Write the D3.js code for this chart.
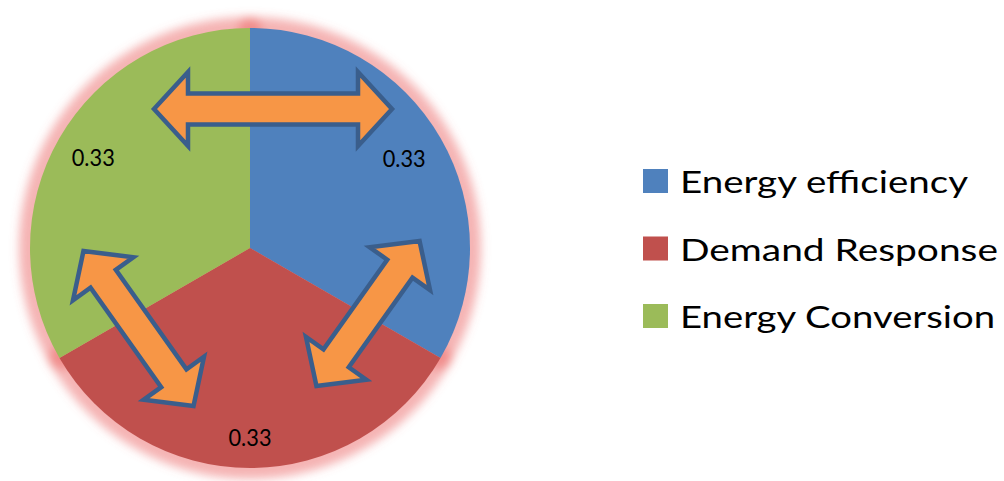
<!DOCTYPE html>
<html>
<head>
<meta charset="utf-8">
<script src="https://cdn.jsdelivr.net/npm/d3@7/dist/d3.min.js"></script>
<style>
  html, body { margin: 0; padding: 0; background: #ffffff; }
  svg { display: block; }
</style>
</head>
<body>
<svg id="chart" width="1004" height="481"></svg>
<script>
// Shares of the three energy-flexibility areas
const categories = ["Energy efficiency", "Demand Response", "Energy Conversion"];
const values = [0.33, 0.33, 0.33];
const valueLabels = ["0.33", "0.33", "0.33"];
const colors = ["#4F81BD", "#C0504D", "#9BBB59"];

// Two-way links between neighbouring areas (drawn as double arrows)
const links = [
  ["Energy Conversion", "Energy efficiency"],
  ["Energy efficiency", "Demand Response"],
  ["Demand Response", "Energy Conversion"]
];

const width = 1004, height = 481;
const cx = 250, cy = 248, radius = 220;

const svg = d3.select("#chart");
const defs = svg.append("defs");

const glow = defs.append("filter")
  .attr("id", "softGlow")
  .attr("x", "-20%").attr("y", "-20%")
  .attr("width", "140%").attr("height", "140%");
glow.append("feGaussianBlur").attr("stdDeviation", 5);

const color = d3.scaleOrdinal().domain(categories).range(colors);

const pie = d3.pie().sort(null).value(d => d.value);
const arcs = pie(categories.map((c, i) => ({ name: c, value: values[i], label: valueLabels[i] })));

const arc = d3.arc().innerRadius(0).outerRadius(radius);

const g = svg.append("g").attr("transform", `translate(${cx},${cy})`);

// soft red halo following each slice outline
g.append("g")
  .attr("filter", "url(#softGlow)")
  .selectAll("path")
  .data(arcs)
  .join("path")
  .attr("d", arc)
  .attr("fill", "none")
  .attr("stroke", "#EC6A67")
  .attr("stroke-opacity", 0.5)
  .attr("stroke-width", 22)
  .attr("stroke-linejoin", "round");

// slices
g.append("g")
  .selectAll("path")
  .data(arcs)
  .join("path")
  .attr("d", arc)
  .attr("fill", d => color(d.data.name));

// double arrows between neighbouring slices, each laid across the shared border
const arrowShape = (L, head, headHalf, shaftHalf) => {
  const a = -L / 2, b = L / 2;
  return [
    [a, 0], [a + head, -headHalf], [a + head, -shaftHalf],
    [b - head, -shaftHalf], [b - head, -headHalf], [b, 0],
    [b - head, headHalf], [b - head, shaftHalf],
    [a + head, shaftHalf], [a + head, headHalf]
  ];
};
const line = d3.line();

// placement of each link arrow relative to the pie centre
const arrowLayout = [
  { dx: 23, dy: -139, rotate: 0, length: 238 },
  { dx: 118, dy: 65.5, rotate: -54.6, length: 178 },
  { dx: -111.5, dy: 80.5, rotate: 54.6, length: 190 }
];

g.append("g")
  .selectAll("path")
  .data(links.map((l, i) => ({ link: l, ...arrowLayout[i] })))
  .join("path")
  .attr("transform", d => `translate(${d.dx},${d.dy}) rotate(${d.rotate})`)
  .attr("d", d => line(arrowShape(d.length, 34, 37, 15.5)) + "Z")
  .attr("fill", "#F79646")
  .attr("stroke", "#3A5E8C")
  .attr("stroke-width", 4.5)
  .attr("stroke-linejoin", "miter")
  .attr("stroke-miterlimit", 10);

// value labels placed on each slice's mid-angle
const labelRadius = { "Energy efficiency": 178, "Demand Response": 190, "Energy Conversion": 181 };
g.append("g")
  .selectAll("text")
  .data(arcs)
  .join("text")
  .attr("transform", d => {
    const r = labelRadius[d.data.name];
    const c = d3.arc().innerRadius(r).outerRadius(r).centroid(d);
    return `translate(${c[0]},${c[1]})`;
  })
  .attr("text-anchor", "middle")
  .attr("dy", "0.36em")
  .attr("font-family", "Lato, 'Open Sans', sans-serif")
  .attr("font-size", 23.5)
  .attr("fill", "#000000")
  .attr("textLength", 43)
  .attr("lengthAdjust", "spacingAndGlyphs")
  .text(d => d.data.label);

// legend
const legendWidths = { "Energy efficiency": 288, "Demand Response": 318, "Energy Conversion": 315 };
const legendY = d3.scalePoint().domain(categories).range([169, 304]);
const legend = svg.append("g");
const item = legend.selectAll("g")
  .data(categories)
  .join("g")
  .attr("transform", d => `translate(643,${legendY(d)})`);
item.append("rect")
  .attr("width", 25)
  .attr("height", 24)
  .attr("fill", d => color(d));
item.append("text")
  .attr("x", 37)
  .attr("y", 24)
  .attr("font-family", "Lato, 'Open Sans', sans-serif")
  .attr("font-size", 31)
  .attr("fill", "#000000")
  .attr("textLength", d => legendWidths[d])
  .attr("lengthAdjust", "spacingAndGlyphs")
  .text(d => d);
</script>
</body>
</html>
